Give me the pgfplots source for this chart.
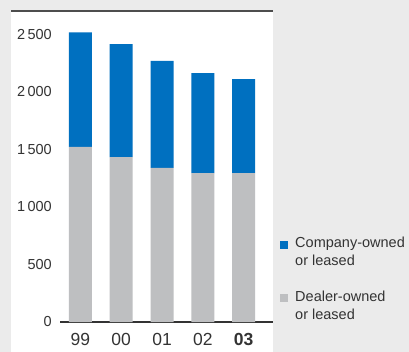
\documentclass[border=0pt]{standalone}
\usepackage{fontspec}
\setmainfont{Liberation Sans}
\usepackage{pgfplots}
\pgfplotsset{compat=1.18}
\definecolor{bgc}{HTML}{EBEBEB}
\definecolor{blu}{HTML}{0070C0}
\definecolor{gry}{HTML}{BEBFC1}
\definecolor{txt}{HTML}{333333}
\definecolor{ln}{HTML}{4D4D4D}
\begin{document}
\begin{tikzpicture}
\path[use as bounding box, fill=bgc] (0,0) rectangle (409bp,352bp);
\fill[white] (11bp,0) rectangle (273bp,341bp);
\draw[ln, line width=1.2bp] (11bp,341bp) -- (273bp,341bp);
\begin{axis}[
 at={(60bp,30bp)}, anchor=south west,
 scale only axis, width=213bp, height=311bp,
 xmin=-0.5, xmax=4.72, ymin=0, ymax=2700,
 ybar stacked, bar width=23bp,
 axis x line*=bottom, axis y line*=left,
 x axis line style={-, draw=txt, line width=1.1bp},
 y axis line style={draw=none},
 major tick length=0pt,
 xtick={0,...,4}, xticklabels={99,00,01,02,\textbf{03}},
 ytick={0,500,...,2500}, yticklabels={0,500,1\,000,1\,500,2\,000,2\,500},
 xticklabel style={font=\fontsize{17.5bp}{20bp}\selectfont, text=txt, anchor=north, inner sep=0pt, yshift=-11bp},
 yticklabel style={font=\fontsize{14.5bp}{17bp}\selectfont, text=txt, anchor=east, inner sep=0pt, xshift=-8bp},
 reverse legend,
 legend style={at={(1.033,0.275)}, anchor=north west, draw=none, fill=none, inner sep=0pt, column sep=7bp, row sep=23bp, font=\fontsize{14.5bp}{18.5bp}\selectfont, text=txt, nodes={inner sep=0pt, align=left, anchor=north west}},
 legend cell align=left,
 legend image code/.code={\fill[#1] (0bp,-12bp) rectangle (8bp,-4bp);},
 clip=false,
]
\addplot[fill=gry, draw=none] coordinates {(0,1520) (1,1432) (2,1337) (3,1293) (4,1293)};
\addplot[fill=blu, draw=none] coordinates {(0,995) (1,981) (2,929) (3,868) (4,816)};
\legend{{Dealer-owned\\or leased},{Company-owned\\or leased}}
\end{axis}
\end{tikzpicture}
\end{document}
